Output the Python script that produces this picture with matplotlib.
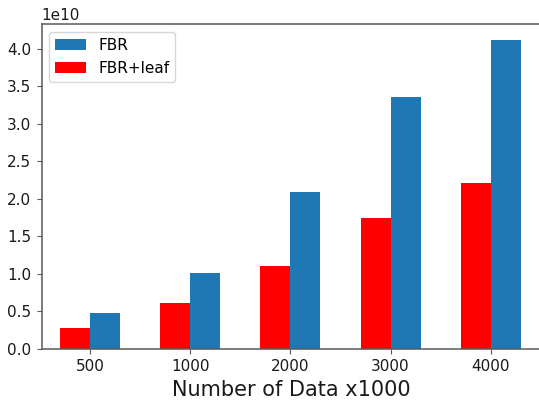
import matplotlib
matplotlib.use("Agg")
import matplotlib.pyplot as plt
import numpy as np

plt.rcParams["font.family"] = ["DejaVu Sans"]

categories = ["500", "1000", "2000", "3000", "4000"]
fbr = [0.48e10, 1.01e10, 2.09e10, 3.36e10, 4.12e10]
fbr_leaf = [0.28e10, 0.61e10, 1.10e10, 1.75e10, 2.21e10]

W, H = 539, 403
fig = plt.figure(figsize=(W / 100, H / 100), dpi=100)
left_px, bottom_px, top_px = 41.5, 349, 24.3
right_px = 540.8
ax = fig.add_axes([left_px / W, (H - bottom_px) / H, (right_px - left_px) / W, (bottom_px - top_px) / H])

x = np.arange(len(categories))
w = 0.3
ax.bar(x + w / 2, fbr, w, color="#1f77b4", label="FBR")
ax.bar(x - w / 2, fbr_leaf, w, color="red", label="FBR+leaf")
ax.set_xticks(x)
ax.set_xticklabels(categories)
ax.set_xlim(-0.485, 4.5)
ax.set_ylim(0, 4.326e10)
ax.set_xlabel("Number of Data x1000", fontsize=15, color="#1a1a1a")
for s in ax.spines.values():
    s.set_color("#595959")
    s.set_linewidth(1.1)
ax.tick_params(labelsize=11, color="#595959", labelcolor="#1a1a1a", length=3.8)
ax.yaxis.get_offset_text().set_fontsize(11)
ax.legend(loc="upper left", fontsize=11)
fig.savefig("out.png", dpi=100)
